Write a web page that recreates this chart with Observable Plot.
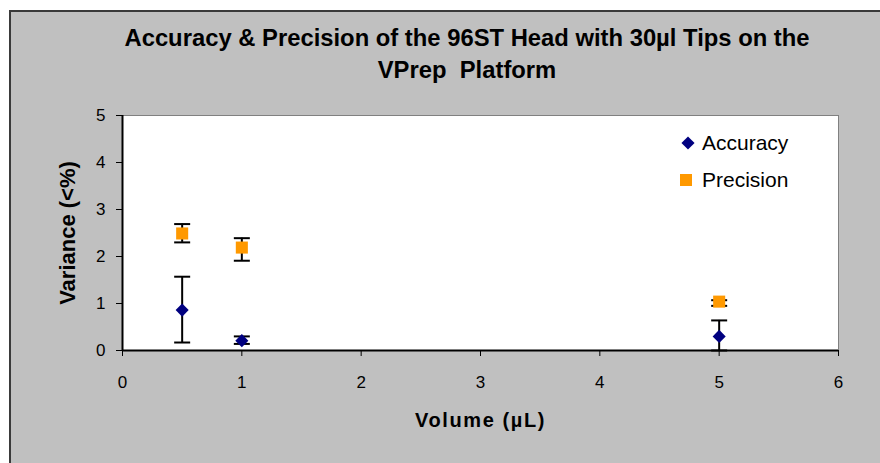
<!DOCTYPE html>
<html>
<head>
<meta charset="utf-8">
<script src="https://cdn.jsdelivr.net/npm/d3@7"></script>
<script src="https://cdn.jsdelivr.net/npm/@observablehq/plot@0.6"></script>
<style>
  html, body { margin: 0; padding: 0; background: #fff; }
  #wrap { position: relative; width: 880px; height: 463px; overflow: hidden; font-family: "Liberation Sans", Arial, sans-serif; }
  #bg { position: absolute; left: 9px; top: 10px; width: 880px; height: 470px; background: #C0C0C0; border-left: 2px solid #3a3a3a; border-top: 2px solid #3a3a3a; }
  #title { position: absolute; left: 54px; top: 22px; width: 826px; text-align: center; font-weight: bold; font-size: 23.8px; line-height: 32px; color: #000; }
  #chart { position: absolute; left: 0; top: 95px; }
  #chart svg { overflow: visible; }
  #legend { position: absolute; left: 0; top: 0; }
</style>
</head>
<body>
<div id="wrap">
  <div id="bg"></div>
  <div id="title">Accuracy &amp; Precision of the 96ST Head with 30µl Tips on the<br>VPrep&nbsp; Platform</div>
  <div id="chart"></div>
  <svg id="legend" width="880" height="463"></svg>
</div>
<script>
// ---- data ----
const volumes = [0.5, 1, 5];
const accuracy = [0.86, 0.21, 0.30];
const accuracyLow = [0.17, 0.14, 0.0];
const accuracyHigh = [1.57, 0.30, 0.64];
const precision = [2.49, 2.19, 1.04];
const precisionLow = [2.30, 1.91, 0.95];
const precisionHigh = [2.69, 2.39, 1.07];
const xTicks = [0, 1, 2, 3, 4, 5, 6];
const yTicks = [0, 1, 2, 3, 4, 5];
const seriesNames = ["Accuracy", "Precision"];
const xLabel = "Volume (µL)";
const yLabel = "Variance (<%)";

const accRows = volumes.map((v, i) => ({volume: v, value: accuracy[i], low: accuracyLow[i], high: accuracyHigh[i]}));
const preRows = volumes.map((v, i) => ({volume: v, value: precision[i], low: precisionLow[i], high: precisionHigh[i]}));
const allRows = accRows.concat(preRows);

const navy = "#000080";
const orange = "#FF9900";

// horizontal cap symbol for error bars
const capSymbol = {
  draw(ctx, size) {
    const r = Math.sqrt(size / Math.PI);
    ctx.moveTo(-r, 0);
    ctx.lineTo(r, 0);
  }
};

const chart = Plot.plot({
  width: 880,
  height: 368,
  marginLeft: 122,
  marginRight: 42,
  marginTop: 20,
  marginBottom: 113,
  x: {domain: [0, 6]},
  y: {domain: [0, 5]},
  style: {background: "transparent", fontFamily: "'Liberation Sans', Arial, sans-serif", fontSize: "17px", color: "#000"},
  marks: [
    Plot.frame({fill: "white", stroke: "#808080"}),
    Plot.axisX({ticks: xTicks, tickSize: 6, tickPadding: 19, label: null, tickFormat: d => String(d)}),
    Plot.axisY({ticks: yTicks, tickSize: 6, tickPadding: 11, label: null, tickFormat: d => String(d)}),
    Plot.ruleY([0], {stroke: "black", strokeWidth: 2}),
    Plot.ruleX([0], {stroke: "black", strokeWidth: 2}),
    Plot.ruleX(allRows, {x: "volume", y1: "low", y2: "high", stroke: "black", strokeWidth: 2}),
    Plot.dot(allRows, {x: "volume", y: "low", symbol: capSymbol, r: 8, stroke: "black", strokeWidth: 2, fill: "none"}),
    Plot.dot(allRows, {x: "volume", y: "high", symbol: capSymbol, r: 8, stroke: "black", strokeWidth: 2, fill: "none"}),
    Plot.dot(accRows, {x: "volume", y: "value", symbol: "diamond2", r: 5.9, fill: navy, stroke: null}),
    Plot.dot(preRows, {x: "volume", y: "value", symbol: "square", r: 6.8, fill: orange, stroke: null}),
    Plot.text([yLabel], {frameAnchor: "left", textAnchor: "middle", rotate: -90, dx: -55, fontWeight: "bold", fontSize: 22, fill: "black"}),
    Plot.text([xLabel], {frameAnchor: "bottom", textAnchor: "middle", dy: 76, fontWeight: "bold", fontSize: 20, fill: "black"})
  ]
});
chart.querySelectorAll("text").forEach(t => {
  if (t.textContent === xLabel) t.setAttribute("letter-spacing", "1.6");
});
document.getElementById("chart").appendChild(chart);

// ---- legend ----
const leg = d3.select("#legend");
const legendItems = [
  {name: seriesNames[0], symbol: d3.symbolDiamond2, size: Math.PI * 5.9 * 5.9, color: navy, cx: 688, cy: 143},
  {name: seriesNames[1], symbol: d3.symbolSquare, size: Math.PI * 6.8 * 6.8, color: orange, cx: 686, cy: 180}
];
legendItems.forEach(it => {
  leg.append("path")
    .attr("d", d3.symbol(it.symbol, it.size)())
    .attr("transform", `translate(${it.cx},${it.cy})`)
    .attr("fill", it.color);
  leg.append("text")
    .attr("x", 702).attr("y", it.cy + 7)
    .attr("font-family", "'Liberation Sans', Arial, sans-serif")
    .attr("font-size", 21)
    .attr("fill", "#000")
    .text(it.name);
});
</script>
</body>
</html>
